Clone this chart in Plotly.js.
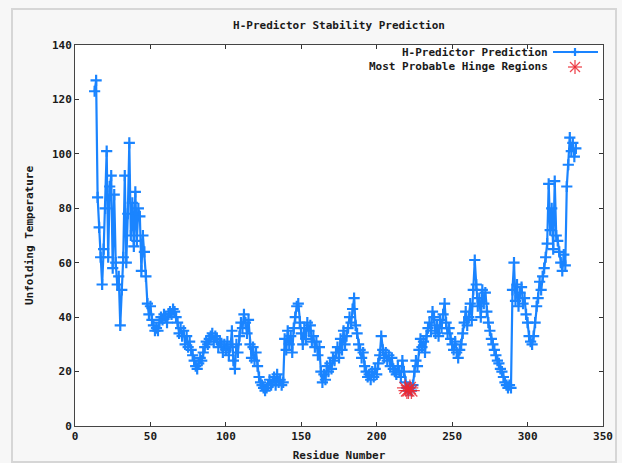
<!DOCTYPE html>
<html>
<head>
<meta charset="utf-8">
<script src="https://cdn.plot.ly/plotly-3.0.1.min.js"></script>
<style>html,body{margin:0;padding:0;background:#fff;}#chart{width:622px;height:463px;}</style>
</head>
<body>
<div id="chart"></div>
<script>
// Residue numbers
const residues = [13,14,15,16,17,18,19,20,21,22,23,24,25,26,27,28,29,30,31,32,33,34,35,36,37,38,39,40,41,42,43,44,45,46,47,48,49,
50,51,52,53,54,55,56,57,58,59,60,61,62,63,64,65,66,67,68,69,70,71,72,73,74,75,76,77,78,79,80,81,82,83,84,85,86,87,88,89,
90,91,92,93,94,95,96,97,98,99,100,101,102,103,104,105,106,107,108,109,110,111,112,113,114,115,116,117,118,119,120,121,122,123,124,125,126,127,128,129,
130,131,132,133,134,135,136,137,138,139,140,141,142,143,144,145,146,147,148,149,150,151,152,153,154,155,156,157,158,159,160,161,162,163,164,165,166,167,168,169,
170,171,172,173,174,175,176,177,178,179,180,181,182,183,184,185,186,187,188,189,190,191,192,193,194,195,196,197,198,199,200,201,202,203,204,205,206,207,208,209,
210,211,212,213,214,215,216,217,218,219,220,221,222,223,224,225,226,227,228,229,230,231,232,233,234,235,236,237,238,239,240,241,242,243,244,245,246,247,248,249,
250,251,252,253,254,255,256,257,258,259,260,261,262,263,264,265,266,267,268,269,270,271,272,273,274,275,276,277,278,279,280,281,282,283,284,285,286,287,288,289,
290,291,292,293,294,295,296,297,298,299,300,301,302,303,304,305,306,307,308,309,310,311,312,313,314,315,316,317,318,319,320,321,322,323,324,325,326,327,328,329,
330,331,332];
// Predicted unfolding temperature
const temperature = [123,127,84,73,62,52,65,80,101,62,88,92,58,85,60,52,55,37,50,62,92,60,78,104,70,82,66,86,68,80,77,57,70,64,55,45,41,
44,39,37,35,36,35,38,40,39,41,40,38,41,42,41,43,42,40,38,34,36,33,35,30,33,29,31,28,26,24,22,21,23,25,24,27,29,31,30,32,
33,34,31,33,32,29,31,30,27,30,28,31,26,29,35,24,21,30,27,33,38,36,41,38,34,39,30,25,29,24,27,22,18,16,15,14,13,14,15,17,
15,16,18,15,19,16,17,15,16,32,28,35,30,33,27,36,40,44,45,38,34,30,36,32,38,35,37,31,33,29,31,26,29,20,16,19,17,22,20,23,
21,25,24,27,29,25,32,28,35,30,33,36,40,38,43,47,37,34,30,28,25,27,22,20,18,19,17,20,18,21,19,23,26,33,28,25,27,24,26,22,
25,21,20,19,22,20,18,24,20,16,14,13,14,13,15,20,24,22,28,32,29,31,27,33,36,38,35,42,40,34,37,33,39,36,41,45,38,34,36,32,
30,28,31,27,25,28,30,34,38,42,37,40,45,39,50,61,52,44,47,40,50,45,49,42,38,35,32,30,28,26,24,23,21,20,18,16,15,14,15,14,
50,60,46,52,44,49,51,45,47,41,38,33,31,30,33,38,44,47,53,50,55,58,62,67,89,72,80,65,90,70,68,64,60,57,63,59,88,96,106,101,
104,99,102];
// Most probable hinge regions
const hingeResidues = [219,220,221,222,223];
const hingeTemps = [14,13,13,14,13];

const blue = '#1a84ff';
const red = 'rgba(235,40,50,0.85)';
const fnt = {family: 'DejaVu Sans Mono, monospace', size: 11, color: '#1a1a1a', weight: 'bold'};

const traces = [
  {x: residues, y: temperature, type: 'scatter', mode: 'lines+markers', name: 'H-Predictor Prediction',
   line: {color: blue, width: 2.2},
   marker: {symbol: 'cross-thin-open', size: 8, line: {color: blue, width: 2.2}, color: blue},
   showlegend: false},
  {x: hingeResidues, y: hingeTemps, type: 'scatter', mode: 'markers', name: 'Most Probable Hinge Regions',
   marker: {symbol: 'asterisk-open', size: 14, line: {color: red, width: 1.3}, color: red},
   showlegend: false}
];

// legend decorations (paper coords): px -> paper
const px2x = p => (p - 75) / 528;
const py2y = p => (426 - p) / 381;
const shapes = [
  {type: 'rect', xref: 'paper', yref: 'paper', x0: px2x(12), x1: px2x(616), y0: py2y(462), y1: py2y(9),
   line: {color: '#d6d6d6', width: 2}, fillcolor: 'rgba(0,0,0,0)', layer: 'below'},
  {type: 'line', xref: 'paper', yref: 'paper', x0: px2x(553), x1: px2x(598), y0: py2y(52), y1: py2y(52), line: {color: blue, width: 2.2}},
  {type: 'line', xref: 'paper', yref: 'paper', x0: px2x(571), x1: px2x(579), y0: py2y(52), y1: py2y(52), line: {color: blue, width: 2.2}},
  {type: 'line', xref: 'paper', yref: 'paper', x0: px2x(575), x1: px2x(575), y0: py2y(48), y1: py2y(56), line: {color: blue, width: 2.2}},
  {type: 'line', xref: 'paper', yref: 'paper', x0: px2x(568), x1: px2x(582), y0: py2y(67), y1: py2y(67), line: {color: red, width: 1.3}},
  {type: 'line', xref: 'paper', yref: 'paper', x0: px2x(575), x1: px2x(575), y0: py2y(60), y1: py2y(74), line: {color: red, width: 1.3}},
  {type: 'line', xref: 'paper', yref: 'paper', x0: px2x(570), x1: px2x(580), y0: py2y(62), y1: py2y(72), line: {color: red, width: 1.3}},
  {type: 'line', xref: 'paper', yref: 'paper', x0: px2x(570), x1: px2x(580), y0: py2y(72), y1: py2y(62), line: {color: red, width: 1.3}}
];

const annotations = [
  {xref: 'paper', yref: 'paper', x: px2x(550), y: py2y(52), xanchor: 'right', yanchor: 'middle', showarrow: false,
   text: 'H-Predictor Prediction', font: fnt},
  {xref: 'paper', yref: 'paper', x: px2x(550), y: py2y(67), xanchor: 'right', yanchor: 'middle', showarrow: false,
   text: 'Most Probable Hinge Regions', font: fnt}
];

const layout = {
  width: 622, height: 463,
  margin: {l: 75, r: 19, t: 45, b: 37},
  paper_bgcolor: '#f7f7f7', plot_bgcolor: '#ffffff',
  title: {text: 'H-Predictor Stability Prediction', font: fnt, x: 0.545, xanchor: 'center', y: 0.946, yanchor: 'middle'},
  xaxis: {range: [0, 350], tickvals: [0,50,100,150,200,250,300,350], ticks: 'inside', ticklen: 4, tickcolor: '#333',
          showgrid: false, zeroline: false, showline: true, linecolor: '#444', linewidth: 1, mirror: 'ticks',
          tickfont: fnt, title: {text: 'Residue Number', font: fnt, standoff: 9}},
  yaxis: {range: [0, 140], tickvals: [0,20,40,60,80,100,120,140], ticks: 'inside', ticklen: 4, tickcolor: '#333',
          showgrid: false, zeroline: false, showline: true, linecolor: '#444', linewidth: 1, mirror: 'ticks',
          tickfont: fnt, title: {text: 'Unfolding Temperature', font: fnt, standoff: 16}},
  shapes: shapes, annotations: annotations, showlegend: false
};

Plotly.newPlot('chart', traces, layout, {displayModeBar: false, staticPlot: true});
</script>
</body>
</html>
